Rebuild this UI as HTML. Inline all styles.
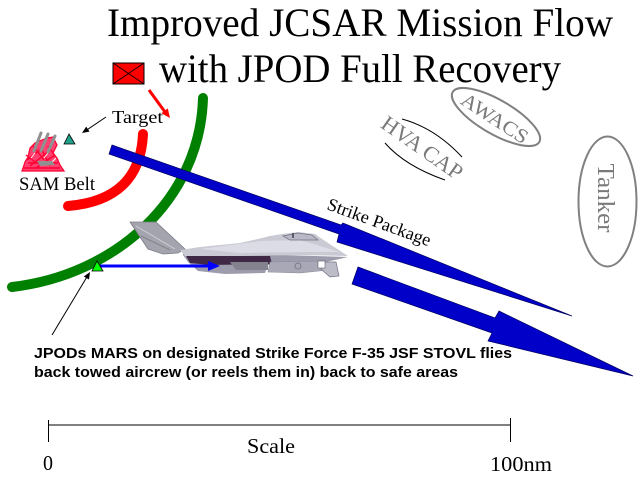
<!DOCTYPE html>
<html>
<head>
<meta charset="utf-8">
<style>
  html,body{margin:0;padding:0;background:#fff;}
  svg{display:block;}
  .serif{font-family:"Liberation Serif","Times New Roman",serif;}
  .sans{font-family:"Liberation Sans",Arial,sans-serif;}
</style>
</head>
<body>
<svg width="640" height="480" viewBox="0 0 640 480" xmlns="http://www.w3.org/2000/svg">
  <rect width="640" height="480" fill="#fff"/>

  <!-- Title -->
  <text class="serif" x="107" y="36" font-size="40" textLength="506" lengthAdjust="spacingAndGlyphs" fill="#000">Improved JCSAR Mission Flow</text>
  <text class="serif" x="159" y="82" font-size="40" textLength="402" lengthAdjust="spacingAndGlyphs" fill="#000">with JPOD Full Recovery</text>

  <!-- red box with X -->
  <rect x="113" y="63" width="31" height="21" fill="#ff0000" stroke="#000" stroke-width="1"/>
  <line x1="113" y1="63" x2="144" y2="84" stroke="#000" stroke-width="0.8"/>
  <line x1="144" y1="63" x2="113" y2="84" stroke="#000" stroke-width="0.8"/>

  <!-- red arrow -->
  <line x1="149" y1="90" x2="165" y2="112" stroke="#ff0000" stroke-width="3"/>
  <polygon points="170,118 167.8,108.4 161.4,113.2" fill="#ff0000"/>

  <!-- red arc (SAM belt) -->
  <path d="M143,134 Q140,200 68,206" fill="none" stroke="#ff0000" stroke-width="10" stroke-linecap="round"/>

  <!-- green arc -->
  <path d="M203,98 C200,200 115,275 12,287" fill="none" stroke="#008000" stroke-width="10" stroke-linecap="round"/>

  <!-- Target label + arrow -->
  <text class="serif" x="112" y="123" font-size="18" textLength="51" lengthAdjust="spacingAndGlyphs" fill="#000">Target</text>
  <line x1="106" y1="117" x2="86" y2="130.5" stroke="#000" stroke-width="1"/>
  <polygon points="82,133 89.5,131.6 86.2,126.6" fill="#000"/>

  <!-- teal target triangle -->
  <polygon points="69,134 64,144 75,144" fill="#20a088" stroke="#000" stroke-width="0.8"/>

  <!-- SAM icon -->
  <g>
    <polygon points="30,148 35,143 42,140 47,138 53,137 57,145 53,153 57,158 60,165 64,171 22,171 25,162 28,157" fill="#ff4070" stroke="#ff0030" stroke-width="1.2"/>
    <path d="M27,160 L40,150 M30,166 L48,152 M36,168 L55,155 M26,155 L35,162 M42,150 L50,166 M33,146 L44,160 M48,146 L58,160 M24,168 L60,168 M28,163 L58,163" stroke="#ff0030" stroke-width="1.4" fill="none"/>
    <path d="M31,158 L35,153 M44,158 L48,153 M52,162 L56,158" stroke="#ffffff" stroke-width="1" fill="none"/>
    <line x1="34" y1="151" x2="41" y2="133" stroke="#909090" stroke-width="3" stroke-linecap="round"/>
    <line x1="41" y1="151" x2="48" y2="134" stroke="#909090" stroke-width="3" stroke-linecap="round"/>
    <line x1="48" y1="152" x2="55" y2="136" stroke="#909090" stroke-width="3" stroke-linecap="round"/>
    <polygon points="37,161 52,161 55,165 40,166" fill="#909090"/>
  </g>
  <text class="serif" x="19" y="190" font-size="19" textLength="76" lengthAdjust="spacingAndGlyphs" fill="#000">SAM Belt</text>

  <!-- Strike package arrow -->
  <polygon points="112,145 341,225 343,223 572,316 337,242 339,234 109,154" fill="#0000c8" stroke="#000060" stroke-width="0.7"/>
  <text class="serif" font-size="18" fill="#000" transform="translate(326,209) rotate(20)" textLength="109" lengthAdjust="spacingAndGlyphs">Strike Package</text>

  <!-- lower return arrow -->
  <polygon points="358,267 495,318 499,311 633,376 488,341 492,333 352,284" fill="#0000c8" stroke="#000060" stroke-width="0.7"/>

  <!-- HVA CAP -->
  <path d="M402,119 Q435,128 462,157" fill="none" stroke="#000" stroke-width="1"/>
  <path d="M385,143 Q405,166 445,180" fill="none" stroke="#000" stroke-width="1"/>
  <text class="serif" font-size="22" fill="#7a7a7a" text-anchor="middle" transform="translate(422,148) rotate(35)" y="7" textLength="94" lengthAdjust="spacingAndGlyphs">HVA CAP</text>

  <!-- AWACS -->
  <ellipse cx="496" cy="117" rx="50" ry="17" transform="rotate(30 496 117)" fill="none" stroke="#808080" stroke-width="2"/>
  <text class="serif" font-size="20" fill="#7a7a7a" text-anchor="middle" transform="translate(495,118) rotate(33)" y="7" textLength="76" lengthAdjust="spacingAndGlyphs">AWACS</text>

  <!-- Tanker -->
  <ellipse cx="607.5" cy="201.5" rx="29" ry="65" fill="none" stroke="#808080" stroke-width="2"/>
  <text class="serif" font-size="24" fill="#7a7a7a" text-anchor="middle" transform="translate(606,198) rotate(90)" y="8" textLength="69" lengthAdjust="spacingAndGlyphs">Tanker</text>

  <!-- F-35 aircraft -->
  <g>
    <!-- tail fin -->
    <polygon points="130,222 156,222 185,249 178,253 163,254 148,249" fill="#a4a4ae" stroke="#7c7c88" stroke-width="0.8"/>
    <line x1="136" y1="226" x2="175" y2="249" stroke="#d0d0d8" stroke-width="1"/>
    <line x1="141" y1="236" x2="170" y2="250" stroke="#84848e" stroke-width="1"/>
    <!-- lower fuselage -->
    <polygon points="183,255 188,262 198,271 225,274 265,273 268,265 325,262 335,260 348,257 183,252" fill="#9c9cac"/>
    <!-- upper fuselage -->
    <polygon points="180,250 200,247 240,243 262,238 270,236 282,234 298,232 315,234 325,241 348,256 300,255 240,256 186,257" fill="#cacad4"/>
    <polygon points="200,249 262,241 300,240 340,252 300,252 240,253" fill="#dcdce6"/>
    <!-- canopy -->
    <polygon points="283,236 298,233 312,235 318,240 290,240" fill="#b8b8c6" stroke="#707080" stroke-width="0.7"/>
    <line x1="293" y1="233" x2="293" y2="238" stroke="#404048" stroke-width="1.5"/>
    <!-- dark underside -->
    <polygon points="186,256 270,256 272,264 210,265 190,263" fill="#3e2846"/>
    <polygon points="230,262 268,262 268,270 236,270" fill="#84828f"/>
    <!-- intake / pod -->
    <polygon points="270,262 325,261 328,270 300,273 268,272" fill="#a8a8b6" stroke="#8a8a98" stroke-width="0.6"/>
    <polygon points="318,262 336,262 339,276 330,277 322,270" fill="#bcbcc8" stroke="#707080" stroke-width="0.7"/>
    <rect x="318" y="261" width="7" height="7" fill="#ffffff" stroke="#606070" stroke-width="0.6"/>
    <circle cx="298" cy="266" r="3" fill="none" stroke="#707080" stroke-width="0.8"/>
  </g>

  <!-- green triangle + thin blue arrow -->
  <line x1="100" y1="266" x2="210" y2="266" stroke="#0000ff" stroke-width="3"/>
  <polygon points="208,261 220,266 208,271" fill="#0000ff"/>
  <polygon points="97,261 92,271 103,271" fill="#00ff00" stroke="#000" stroke-width="0.8"/>

  <!-- pointer line from text -->
  <line x1="52" y1="335" x2="87.5" y2="276" stroke="#000" stroke-width="1"/>
  <polygon points="90,272 89,279.5 83.8,276.5" fill="#000"/>

  <!-- bottom description -->
  <text class="sans" x="34" y="358" font-size="14.5" font-weight="bold" textLength="478" lengthAdjust="spacingAndGlyphs" fill="#000">JPODs MARS on designated Strike Force F-35 JSF STOVL flies</text>
  <text class="sans" x="34" y="377" font-size="14.5" font-weight="bold" textLength="424" lengthAdjust="spacingAndGlyphs" fill="#000">back towed aircrew (or reels them in) back to safe areas</text>

  <!-- scale -->
  <line x1="48" y1="425" x2="511" y2="425" stroke="#000" stroke-width="1"/>
  <line x1="48.5" y1="420" x2="48.5" y2="442" stroke="#000" stroke-width="1"/>
  <line x1="510.5" y1="418" x2="510.5" y2="442" stroke="#000" stroke-width="1"/>
  <text class="serif" x="247" y="453" font-size="21" textLength="48" lengthAdjust="spacingAndGlyphs" fill="#000">Scale</text>
  <text class="serif" x="43" y="470" font-size="21" textLength="10" lengthAdjust="spacingAndGlyphs" fill="#000">0</text>
  <text class="serif" x="490" y="471" font-size="21" textLength="62" lengthAdjust="spacingAndGlyphs" fill="#000">100nm</text>
</svg>
</body>
</html>
